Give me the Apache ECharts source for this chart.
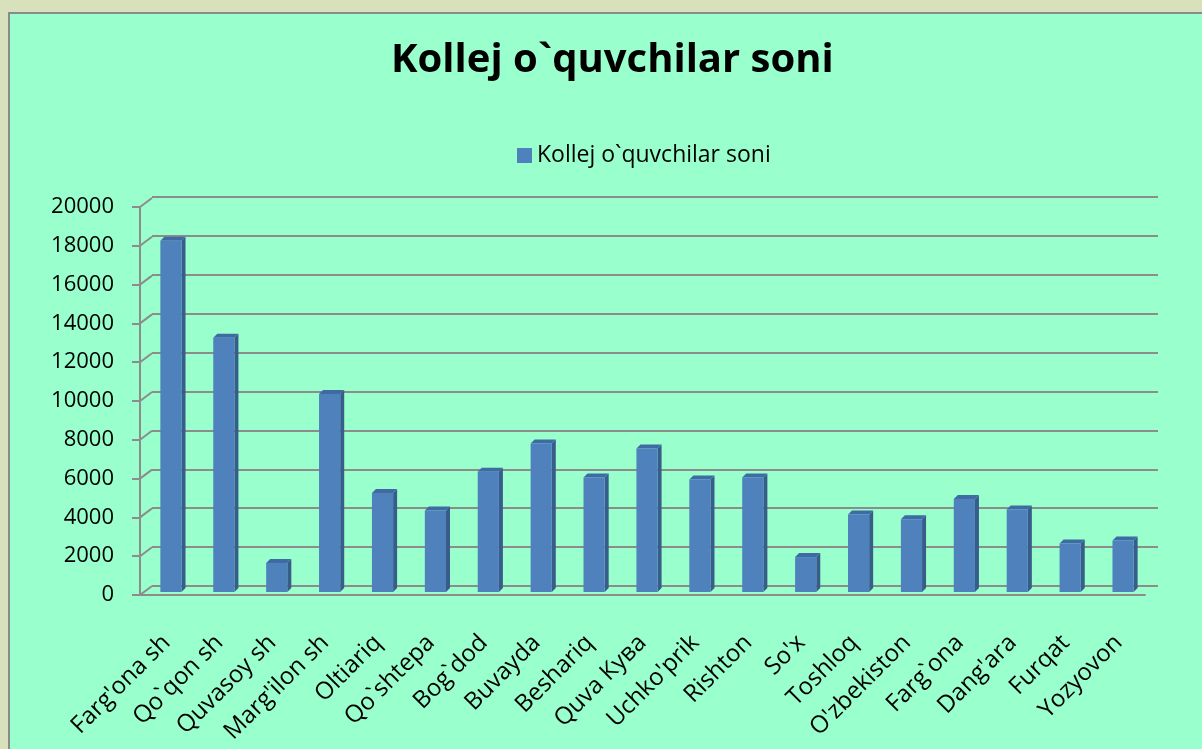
<!DOCTYPE html>
<html>
<head>
<meta charset="utf-8">
<title>Kollej o`quvchilar soni</title>
<script src="https://cdn.jsdelivr.net/npm/echarts@6/dist/echarts.min.js"></script>
<style>
  html, body { margin: 0; padding: 0; background: #d9e1bc; }
  #panel { position: absolute; left: 8px; top: 12px; width: 1200px; height: 740px;
           background: #99ffcc; border: 2px solid #8a8a8a; }
  #chart { position: absolute; left: 0; top: 0; width: 1202px; height: 749px; }
</style>
</head>
<body>
<div id="panel"></div>
<div id="chart"></div>

<script type="text/javascript">
// tumanlar / shaharlar
var regions = ["Farg'ona sh", "Qo`qon sh", "Quvasoy sh", "Marg'ilon sh", "Oltiariq", "Qo`shtepa",
  "Bog`dod", "Buvayda", "Beshariq", "Quva Кува", "Uchko'prik", "Rishton", "So'x", "Toshloq",
  "O'zbekiston", "Farg`ona", "Dang'ara", "Furqat", "Yozyovon"];

// kollej o`quvchilar soni
var students = [18100, 13100, 1500, 10200, 5100, 4200, 6200, 7650, 5900, 7400,
  5800, 5900, 1800, 4000, 3750, 4800, 4250, 2500, 2650];

var yTicks = [0, 2000, 4000, 6000, 8000, 10000, 12000, 14000, 16000, 18000, 20000];

var seriesName = 'Kollej o`quvchilar soni';
var font = 'Open Sans';
var gridColor = '#8c8c8c';

var chart = echarts.init(document.getElementById('chart'));

// 3d ustun: old tomoni, yon tomoni, usti
function renderBar(params, api) {
  var i = api.value(0);
  var base = api.coord([i, 0]);
  var top = api.coord([i, api.value(1)]);
  var bw = api.size([1, 0])[0] * 0.4;
  var d = 4;
  var x0 = base[0] - bw / 2 + 4.5;
  var x1 = x0 + bw;
  var yb = base[1] - 3;
  var yt = top[1] - 3;
  return {
    type: 'group',
    children: [
      { type: 'polygon', shape: { points: [[x1, yt], [x1 + d, yt - d], [x1 + d, yb - d], [x1, yb]] },
        style: { fill: '#385d8a' } },
      { type: 'polygon', shape: { points: [[x0, yt], [x1, yt], [x1 + d, yt - d], [x0 + d, yt - d]] },
        style: { fill: '#3f6aa3' } },
      { type: 'rect', shape: { x: x0, y: yt, width: bw, height: yb - yt },
        style: { fill: '#4f81bd' } }
    ]
  };
}

// chap devordagi qiya chiziqlar
function renderWall(params, api) {
  var p = api.coord([0, api.value(1)]);
  var half = api.size([1, 0])[0] / 2;
  var x = p[0] - half;
  return { type: 'line', shape: { x1: x, y1: p[1], x2: x + 12, y2: p[1] - 9 },
           style: { stroke: gridColor, lineWidth: 2 } };
}

option = {
  animation: false,
  title: {
    text: seriesName,
    left: 386,
    top: 36,
    textStyle: { fontFamily: font, fontSize: 40, fontWeight: 'bold', color: '#000' }
  },
  legend: {
    data: [seriesName],
    left: 512,
    top: 139,
    itemWidth: 15,
    itemHeight: 15,
    itemGap: 6,
    icon: 'rect',
    textStyle: { fontFamily: font, fontSize: 23, color: '#000' }
  },
  grid: [
    { left: 140, right: 57, top: 207, bottom: 154 },
    { left: 152, right: 44, top: 197, bottom: 163 }
  ],
  xAxis: [
    {
      type: 'category',
      gridIndex: 0,
      data: regions,
      axisLine: { lineStyle: { color: gridColor, width: 2 } },
      axisTick: { length: 8, lineStyle: { color: gridColor, width: 2 } },
      axisLabel: { rotate: 45, margin: 44, interval: 0, color: '#000', fontFamily: font, fontSize: 24 }
    },
    { type: 'category', gridIndex: 1, data: regions, show: false }
  ],
  yAxis: [
    {
      type: 'value',
      gridIndex: 0,
      min: 0, max: 20000, interval: 2000,
      axisLine: { show: true, lineStyle: { color: gridColor, width: 2 } },
      axisTick: { show: true, length: 8, lineStyle: { color: gridColor, width: 2 } },
      axisLabel: { margin: 26, color: '#000', fontFamily: font, fontSize: 22,
                   formatter: function (v) { return String(v); } },
      splitLine: { show: false }
    },
    {
      type: 'value',
      gridIndex: 1,
      min: 0, max: 20000, interval: 2000,
      axisLine: { show: false },
      axisTick: { show: false },
      axisLabel: { show: false },
      splitLine: { lineStyle: { color: gridColor, width: 2 } }
    }
  ],
  series: [
    {
      name: 'wall',
      type: 'custom',
      xAxisIndex: 0, yAxisIndex: 0,
      renderItem: renderWall,
      data: yTicks.map(function (v) { return [0, v]; }),
      silent: true,
      z: 1
    },
    {
      name: seriesName,
      type: 'custom',
      xAxisIndex: 0, yAxisIndex: 0,
      renderItem: renderBar,
      itemStyle: { color: '#4f81bd' },
      encode: { x: 0, y: 1 },
      data: students.map(function (v, i) { return [i, v]; }),
      z: 3
    }
  ]
};

chart.setOption(option);
</script>
</body>
</html>
